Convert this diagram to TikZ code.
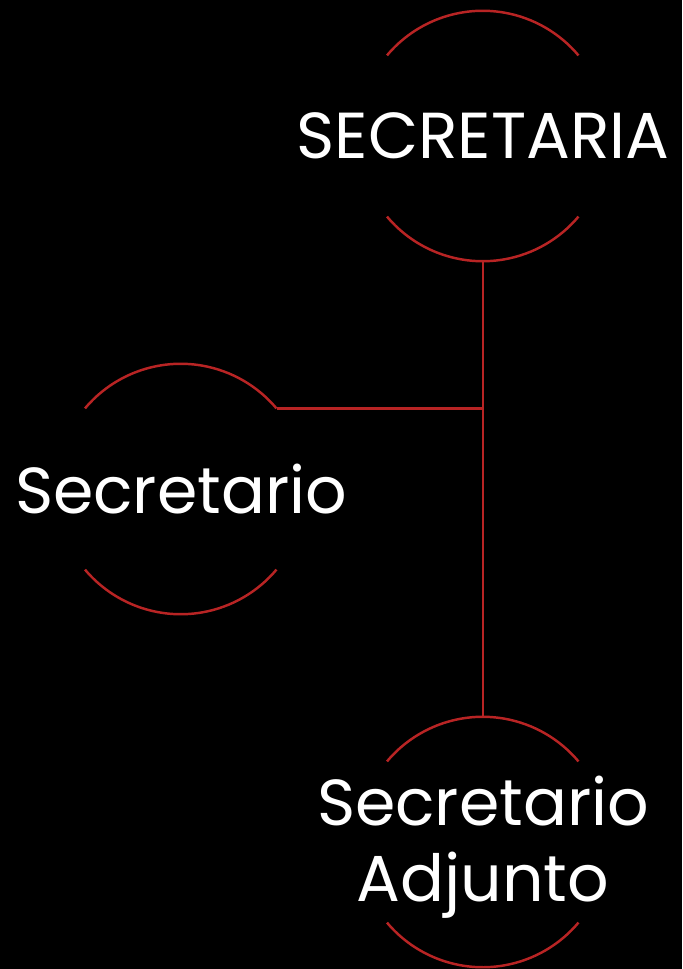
\documentclass[tikz,border=0pt]{standalone}
\usepackage{fontspec}
\setmainfont{Poppins}
\usetikzlibrary{positioning, calc}
\definecolor{Ink}{HTML}{000000}
\definecolor{Rule}{HTML}{B82424}
\definecolor{Paper}{HTML}{FFFFFF}
\tikzset{
    ring/.style={circle, minimum size=5cm, inner sep=0pt},
    ringarc/.style={draw=Rule, line width=1.4pt},
    link/.style={draw=Rule, line width=1.4pt},
    title/.style={text=Paper, align=center, font=\fontsize{37}{43}\selectfont},
}

\begin{document}
\begin{tikzpicture}[x=1cm, y=1cm]
        % --- Page ---
        \fill[Ink] (0,0) rectangle (13.64,-19.38);
        \useasboundingbox (0,0) rectangle (13.64,-19.38);

        % --- Rings ---
        \node[ring] (secr) at (9.66, -2.72)  {};
        \node[ring] (sec)  at (3.62, -9.78)  {};
        \node[ring] (adj)  at (9.66, -16.84) {};

        % Arcs (top and bottom of each ring)
        \foreach \r in {secr, sec, adj} {
            \draw[ringarc] (\r.140) arc[start angle=140, end angle=40, radius=2.5cm];
            \draw[ringarc] (\r.220) arc[start angle=220, end angle=320, radius=2.5cm];
        }

        % Titles
        \node[title] (secrt) at (secr) {SECRETARIA};
        \node[title] (sect)  at (sec)  {Secretario};
        \node[title] (adjt)  at ([yshift=-0.1cm]adj.center) {Secretario\\Adjunto};

        % --- Links ---
        \draw[link] (secr.south) -- (adj.north);
        \draw[link] (sec.40) -- (sec.40 -| secr.south);
    \end{tikzpicture}
\end{document}
